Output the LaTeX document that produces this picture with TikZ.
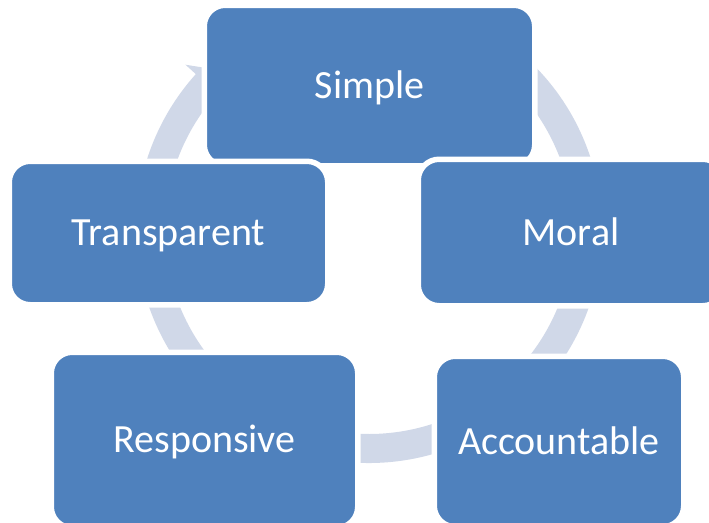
\documentclass[tikz,border=0pt]{standalone}
\usepackage{fontspec}
\setmainfont{Carlito}
\definecolor{boxblue}{RGB}{79,129,189}
\definecolor{ringblue}{RGB}{208,216,232}
\begin{document}
\begin{tikzpicture}[x=1pt,y=1pt,
  cyclebox/.style={draw=white, line width=5.5pt, fill=boxblue, rounded corners=21pt,
    text=white, font=\fontsize{40}{48}\selectfont, inner sep=0pt,
    text height=25.5pt, text depth=0pt}]
\useasboundingbox (0,0) rectangle (709,-522);
\fill[white] (0,0) rectangle (709,-522);
\clip (0,0) rectangle (709,-522);
% ring arrow
\begin{scope}[shift={(369,-230)}]
\fill[ringblue] (55:233pt) arc[start angle=55,end angle=-222,radius=233pt]
  -- (138:247pt) -- (133:218.5pt) -- (138:190pt) -- (138:204pt)
  arc[start angle=-222,end angle=55,radius=204pt] -- cycle;
\end{scope}
% boxes
\node[cyclebox, minimum width=330.5pt, minimum height=160.5pt] (simple) at (369.5,-85.5) {Simple};
\node[cyclebox, minimum width=318.5pt, minimum height=143.5pt] (transparent) at (168.5,-233) {Transparent};
\node[cyclebox, minimum width=305.5pt, minimum height=146.5pt] (moral) at (571,-232.5) {Moral};
\node[cyclebox, minimum width=306.5pt, minimum height=175.5pt] (responsive) at (204.5,-440) {Responsive};
\node[cyclebox, minimum width=249.5pt, minimum height=170.5pt] (accountable) at (559,-441.5) {Accountable};
\end{tikzpicture}
\end{document}
